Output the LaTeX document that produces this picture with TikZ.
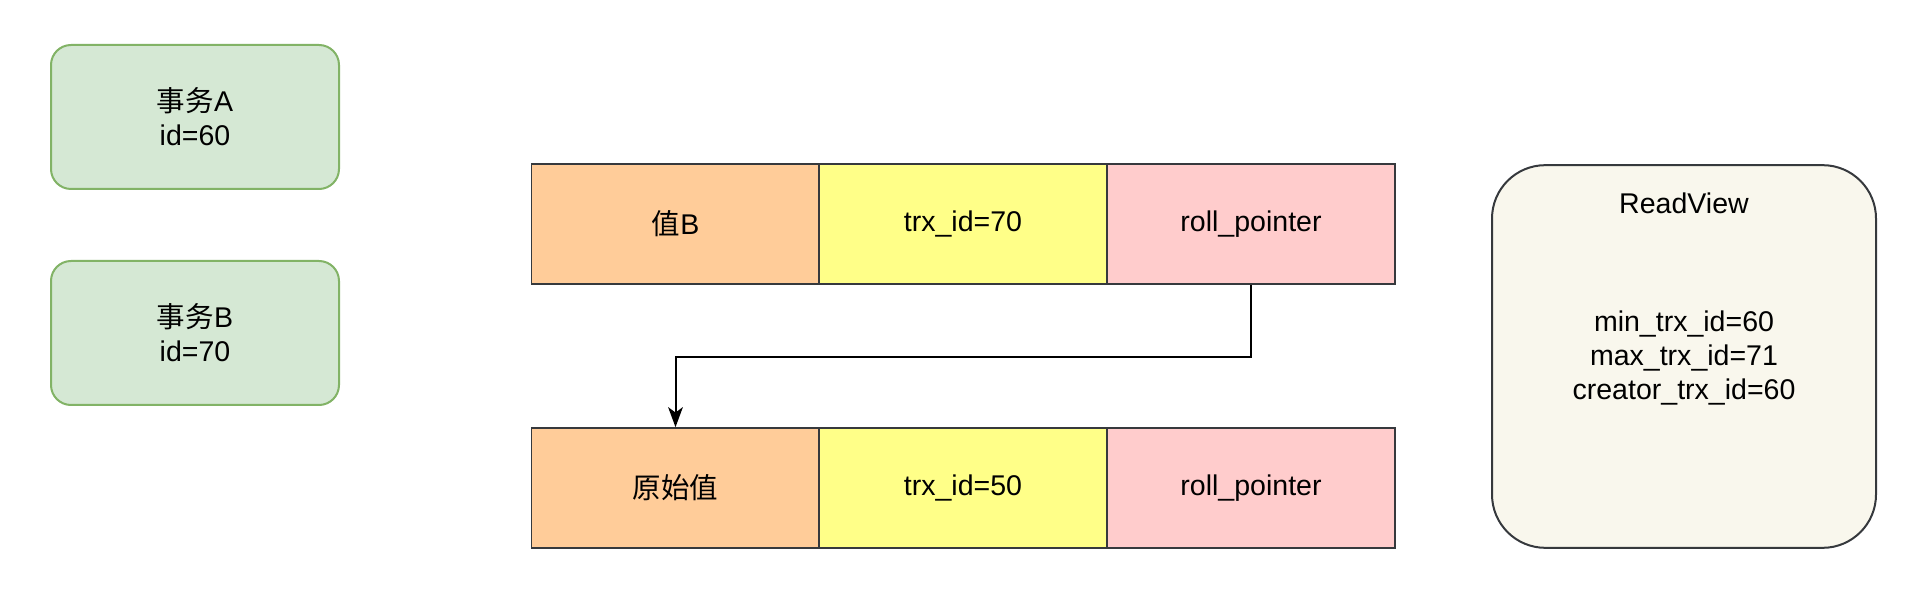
\documentclass[tikz,border=0pt]{standalone}
\usepackage{fontspec}
\setmainfont{Liberation Sans}
\newfontfamily\cjk{Noto Sans CJK SC}
\usetikzlibrary{arrows.meta}
\definecolor{txfill}{HTML}{D5E8D4}
\definecolor{txline}{HTML}{82B366}
\definecolor{valfill}{HTML}{FFCC99}
\definecolor{idfill}{HTML}{FFFF88}
\definecolor{ptrfill}{HTML}{FFCCCC}
\definecolor{rvfill}{HTML}{F9F7ED}
\definecolor{darkline}{HTML}{36393D}
\tikzset{
  txbox/.style={draw=txline,fill=txfill,line width=1.5pt,rounded corners=15pt,
    minimum width=216pt,minimum height=108pt,align=center},
  cell/.style={draw=darkline,line width=1.2pt,minimum width=216pt,minimum height=90pt},
  txt/.style={font=\fontsize{21.4}{25.5}\selectfont,align=center}
}
\begin{document}
\begin{tikzpicture}
[x=0.75pt,y=-0.75pt,every node/.append style={txt}]
\useasboundingbox (0,0) rectangle (1914,598);
\node[txbox] (txa) at (195,117) {{\cjk 事务}A\\id=60};
\node[txbox] (txb) at (195,333) {{\cjk 事务}B\\id=70};
\node[cell,fill=valfill] (v1) at (675.5,224) {{\cjk 值}B};
\node[cell,fill=idfill] (i1) at (963,224) {trx\_id=70};
\node[cell,fill=ptrfill] (p1) at (1251,224) {roll\_pointer};
\node[cell,fill=valfill] (v2) at (675.5,488) {\cjk 原始值};
\node[cell,fill=idfill] (i2) at (963,488) {trx\_id=50};
\node[cell,fill=ptrfill] (p2) at (1251,488) {roll\_pointer};
\draw[line width=1.5pt,-{Stealth[length=15pt,width=11pt,inset=4pt]}]
  (p1.south) -- ++(0,72) -| (v2.north);
\node[draw=darkline,fill=rvfill,line width=1.5pt,rounded corners=40pt,
  minimum width=288pt,minimum height=287pt] (rv) at (1684,356.5) {};
\node (rvtitle) at (1684,203) {ReadView};
\node (rvids) at (1684,358) {min\_trx\_id=60\\max\_trx\_id=71\\creator\_trx\_id=60};
\end{tikzpicture}
\end{document}
